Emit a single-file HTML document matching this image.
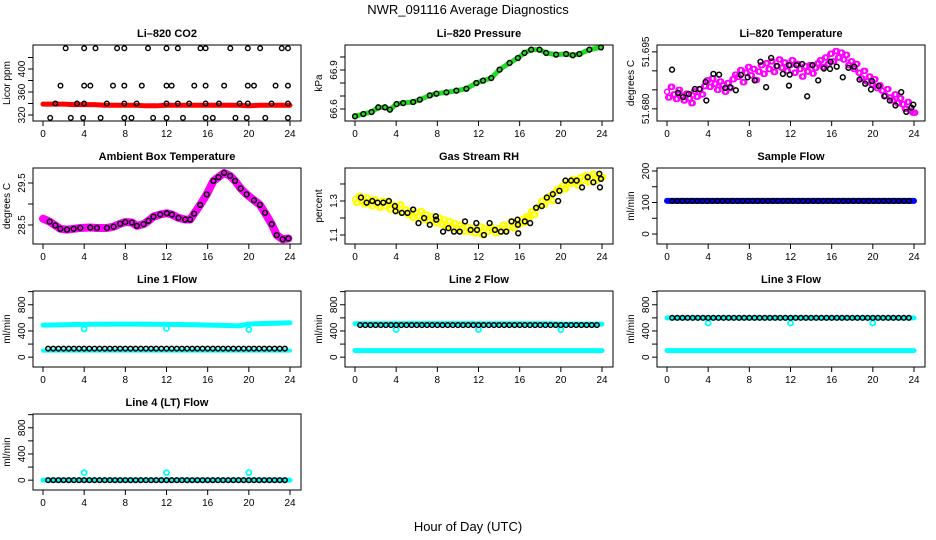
<!DOCTYPE html>
<html><head><meta charset="utf-8"><style>
html,body{margin:0;padding:0;background:#fff;}
svg{display:block;font-family:"Liberation Sans",sans-serif;}
</style></head><body>
<svg id="fig" width="936" height="540" viewBox="0 0 936 540">
<text x="468" y="14" text-anchor="middle" font-size="13">NWR_091116  Average Diagnostics</text>
<text x="468" y="531" text-anchor="middle" font-size="13">Hour of Day (UTC)</text>
</svg>
<script>
// ---------- data ----------
const xTicks=[0,4,8,12,16,20,24];
// CO2
const co2RedVals=[339,339,339,338,338,338,337,337,337,337,336,336,337,337,337,337,337,337,337,337,336,337,337,337,337];
const co2HighHours=[2.2,4.0,5.1,7.2,7.9,10.2,12.0,13.1,15.3,15.8,18.2,19.9,21.1,23.2,23.8];
const co2HighVal=436;
const co2MidHours=[1.7,4.0,4.6,6.8,7.9,9.6,12.0,12.5,14.7,15.8,17.6,19.9,20.5,22.6,23.8];
const co2MidVal=371;
const co2LowHours=[1.2,3.3,4.0,6.2,7.9,9.1,12.0,13.1,14.2,15.8,17.1,19.1,19.9,22.2,23.8];
const co2LowVal=340;
const co2MinHours=[0.7,2.7,3.9,5.6,7.9,8.6,10.7,12.0,13.6,15.8,16.5,18.7,19.8,21.6,23.8];
const co2MinVal=315;
// Pressure
const presHours=[0,0.81,1.61,2.26,2.91,3.39,4.04,4.68,5.65,6.30,7.27,7.91,8.88,9.85,10.82,11.79,12.44,13.24,14.05,15.02,15.83,16.47,17.12,17.93,18.57,19.54,20.51,21.16,21.80,22.77,23.90];
const presVals=[66.544,66.562,66.577,66.613,66.613,66.595,66.638,66.646,66.654,66.672,66.705,66.718,66.728,66.741,66.756,66.800,66.818,66.838,66.903,66.954,66.992,67.031,67.056,67.056,67.031,67.018,67.023,67.013,67.023,67.056,67.074];
// Li-820 temperature
const tempCloud=[51.6845,51.6830,51.6858,51.6838,51.6826,51.6850,51.6835,51.6822,51.6840,51.6828,51.6815,51.6846,51.6832,51.6852,51.6838,51.6860,51.6875,51.6858,51.6880,51.6866,51.6850,51.6872,51.6862,51.6845,51.6868,51.6855,51.6878,51.6890,51.6884,51.6902,51.6870,51.6895,51.6910,51.6888,51.6905,51.6876,51.6898,51.6915,51.6892,51.6920,51.6905,51.6925,51.6897,51.6912,51.6930,51.6908,51.6922,51.6900,51.6915,51.6928,51.6895,51.6918,51.6905,51.6885,51.6912,51.6898,51.6915,51.6893,51.6908,51.6920,51.6928,51.6910,51.6935,51.6918,51.6945,51.6925,51.6952,51.6935,51.6948,51.6930,51.6942,51.6915,51.6925,51.6905,51.6918,51.6895,51.6880,51.6900,51.6872,51.6885,51.6865,51.6878,51.6855,51.6862,51.6848,51.6835,51.6852,51.6830,51.6822,51.6838,51.6815,51.6828,51.6812,51.6800,51.6818,51.6795,51.6790];
const tempBlackHours=[0.49,1.08,1.57,2.12,2.71,3.17,3.75,3.82,4.51,5.06,5.65,6.14,6.69,7.18,7.84,8.52,9.08,9.63,10.12,10.68,11.26,11.85,11.85,11.92,12.57,13.13,13.62,14.14,14.69,15.25,15.84,15.90,16.49,17.08,17.63,18.19,18.71,19.26,19.82,19.92,20.57,21.12,21.65,22.20,22.76,23.25,23.74,23.93];
const tempBlackVals=[51.6903,51.6842,51.6831,51.6839,51.6852,51.6852,51.6871,51.6822,51.6892,51.6890,51.6855,51.6857,51.6849,51.6889,51.6883,51.6875,51.6924,51.6857,51.6934,51.6913,51.6892,51.6915,51.6861,51.6890,51.6915,51.6918,51.6833,51.6915,51.6875,51.6906,51.6905,51.6924,51.6911,51.6883,51.6908,51.6911,51.6877,51.6866,51.6851,51.6873,51.6860,51.6833,51.6822,51.6809,51.6844,51.6792,51.6803,51.6811];
// Ambient box temperature
const ambHours=[0,0.65,1.2,1.68,2.33,2.98,3.62,4.59,5.24,6.21,6.86,7.5,7.99,8.64,9.12,9.77,10.25,10.74,11.39,12.03,12.52,13.16,13.81,14.3,14.68,15.27,15.91,16.56,17.05,17.6,18.18,18.66,19.21,19.79,20.5,21.08,21.57,22.22,22.71,23.29,23.84];
const ambVals=[28.65,28.58,28.49,28.41,28.39,28.41,28.43,28.44,28.43,28.43,28.46,28.53,28.57,28.56,28.48,28.52,28.60,28.70,28.75,28.78,28.75,28.67,28.63,28.63,28.77,28.98,29.23,29.55,29.64,29.74,29.67,29.55,29.37,29.23,29.09,28.98,28.79,28.52,28.26,28.16,28.18];
// Gas stream RH
const rhCloud=[1.31,1.29,1.33,1.30,1.28,1.32,1.30,1.27,1.31,1.29,1.26,1.30,1.27,1.30,1.25,1.28,1.26,1.24,1.28,1.23,1.25,1.22,1.24,1.20,1.23,1.21,1.24,1.19,1.22,1.18,1.21,1.19,1.17,1.20,1.16,1.19,1.15,1.18,1.14,1.17,1.13,1.16,1.14,1.12,1.15,1.12,1.14,1.11,1.13,1.15,1.10,1.14,1.12,1.15,1.13,1.11,1.14,1.12,1.16,1.13,1.15,1.18,1.14,1.17,1.16,1.19,1.17,1.21,1.20,1.24,1.22,1.26,1.27,1.30,1.28,1.32,1.33,1.30,1.35,1.37,1.36,1.39,1.37,1.41,1.40,1.43,1.41,1.39,1.44,1.42,1.45,1.41,1.43,1.46,1.42,1.45,1.44];
const rhBlackHours=[0.58,1.13,1.68,2.2,2.75,3.29,3.88,3.94,4.55,5.1,5.65,6.17,6.72,7.27,7.85,7.9,8.56,9.08,9.62,10.17,10.69,11.24,11.79,11.86,12.53,13.08,13.6,14.18,14.7,15.21,15.79,15.83,15.86,16.5,17.02,17.6,18.15,18.64,19.22,19.74,19.86,20.45,21.0,21.54,22.06,22.61,23.16,23.74,23.8,23.9];
const rhBlackVals=[1.32,1.29,1.30,1.29,1.29,1.30,1.27,1.24,1.23,1.23,1.25,1.17,1.20,1.16,1.21,1.19,1.12,1.14,1.12,1.12,1.18,1.13,1.17,1.13,1.10,1.17,1.13,1.12,1.12,1.18,1.19,1.16,1.11,1.18,1.17,1.26,1.27,1.32,1.34,1.30,1.36,1.42,1.42,1.42,1.38,1.44,1.41,1.46,1.38,1.43];
// Sample flow
const sampleBlue=[105,105,105,105,105,105,105,105,105,105,105,105,105,105,105,105,105,105,105,105,105,105,105,105,105];
const sampleBlack=[105,105,105,105,105,105,105,105,105,105,105,105,105,105,105,105,105,105,105,105,105,105,105,105,105,105,105,105,105,105,105,105,105,105,105,105,105,105,105,105,105,105,105,105,105,105,105,105];
// Line flows
const l1CyanHigh=[490,492,495,498,500,502,503,504,505,504,503,502,500,498,496,494,490,487,484,478,505,512,516,520,525];
const l1CyanLow=[100,100,100,100,100,100,100,100,100,100,100,100,100,100,100,100,100,100,100,100,100,100,100,100,100];
const l1Black=[130,130,130,130,130,130,130,130,130,130,130,130,130,130,130,130,130,130,130,130,130,130,130,130,130,130,130,130,130,130,130,130,130,130,130,130,130,130,130,130,130,130,130,130,130,130,130];
const l1DipHours=[4,12,20];
const l1DipVals=[430,440,420];
const l2CyanHigh=[510,510,510,510,510,512,512,512,512,512,512,512,510,510,510,510,510,510,510,510,505,505,505,505,505];
const l2CyanLow=[100,100,100,100,100,100,100,100,100,100,100,100,100,100,100,100,100,100,100,100,100,100,100,100,100];
const l2Black=[490,490,490,490,490,490,490,490,490,490,490,490,490,490,490,490,490,490,490,490,490,490,490,490,490,490,490,490,490,490,490,490,490,490,490,490,490,490,490,490,490,490,490,490,490,490,490];
const l2DipHours=[4,12,20];
const l2DipVals=[420,420,420];
const l3CyanHigh=[600,600,600,600,600,600,600,600,600,600,600,600,600,600,600,600,600,600,600,600,600,600,600,600,600];
const l3CyanLow=[100,100,100,100,100,100,100,100,100,100,100,100,100,100,100,100,100,100,100,100,100,100,100,100,100];
const l3Black=[600,600,600,600,600,600,600,600,600,600,600,600,600,600,600,600,600,600,600,600,600,600,600,600,600,600,600,600,600,600,600,600,600,600,600,600,600,600,600,600,600,600,600,600,600,600,600];
const l3DipHours=[4,12,20];
const l3DipVals=[520,520,520];
const l4Cyan=[0,0,0,0,0,0,0,0,0,0,0,0,0,0,0,0,0,0,0,0,0,0,0,0,0];
const l4Black=[0,0,0,0,0,0,0,0,0,0,0,0,0,0,0,0,0,0,0,0,0,0,0,0,0,0,0,0,0,0,0,0,0,0,0,0,0,0,0,0,0,0,0,0,0,0,0];
const l4SpikeHours=[4,12,20];
const l4SpikeVals=[115,115,115];

// ---------- drawing ----------
const NS="http://www.w3.org/2000/svg";
const svg=document.getElementById('fig');
const colX=[0,312,624], rowY=[45,168,291,414];
function mk(tag,attrs,parent){const e=document.createElementNS(NS,tag);for(const k in attrs)e.setAttribute(k,attrs[k]);(parent||svg).appendChild(e);return e;}

function panel(col,row,name,title,ylab,ydom,ticks,labels,fmt){
  const bx=colX[col]+33,bw=268,by=rowY[row],bh=76;
  const g=mk('g',{});
  
  
  const xs=h=>bx+10+h/24*247;
  const ys=v=>by+bh-(v-ydom[0])/(ydom[1]-ydom[0])*bh;
  const box=mk('rect',{x:bx,y:by,width:bw,height:bh,fill:'none',stroke:'#000','stroke-width':1},g);
  
  
  const t=mk('text',{x:bx+bw/2,y:by-8,'text-anchor':'middle','font-size':11,'font-weight':'bold'},g);
  t.textContent=title;
  
  
  const yl=mk('text',{x:0,y:0,'text-anchor':'middle','font-size':10,transform:`translate(${bx-23},${by+bh/2}) rotate(-90)`},g);
  yl.textContent=ylab;
  
  
  const ax=mk('g',{stroke:'#000','stroke-width':1},g);
  
  
  mk('line',{x1:xs(0),x2:xs(24),y1:by+bh,y2:by+bh},ax);
  xTicks.forEach(h=>{
    mk('line',{x1:xs(h),x2:xs(h),y1:by+bh,y2:by+bh+5},ax);
    const l=mk('text',{x:xs(h),y:by+bh+16,'text-anchor':'middle','font-size':10,stroke:'none'},g);
    l.textContent=h;
    
    
  });
  const ay=mk('g',{stroke:'#000','stroke-width':1},g);
  
  
  ticks.forEach(v=>mk('line',{x1:bx-5,x2:bx,y1:ys(v),y2:ys(v)},ay));
  labels.forEach(v=>{
    const l=mk('text',{x:0,y:0,'text-anchor':'middle','font-size':10,transform:`translate(${bx-8},${ys(v)}) rotate(-90)`},g);
    l.textContent=fmt?v.toFixed(fmt):String(v);
    
    
  });
  const data=mk('g',{},g);
  
  
  return {xs,ys,data};
}
function band(p,hours,vals,color,w,nm){
  const pts=vals.map((v,i)=>p.xs(hours?hours[i]:i*24/(vals.length-1))+','+p.ys(v)).join(' ');
  const e=mk('polyline',{points:pts,fill:'none',stroke:color,'stroke-width':w,'stroke-linejoin':'round','stroke-linecap':'round'},p.data);
  
  
}
function circles(p,hours,vals,color,nm,r,sw){
  vals.forEach((v,i)=>{
    const h=hours?hours[i]:0.5+i*(23.5-0.5)/(vals.length-1);
    const c=mk('circle',{cx:p.xs(h),cy:p.ys(v),r:r||2.3,fill:'none',stroke:color,'stroke-width':sw||1.4},p.data);
    
    
  });
}
function constHours(hours,val){return hours.map(()=>val);}

let p=panel(0,0,'co2','Li\u2013820 CO2','Licor ppm',[309.6,441.7],[320,340,360,380,400,420],[320,360,400]);
band(p,null,co2RedVals,'#ff0000',5,'co2-red-band');
circles(p,co2HighHours,constHours(co2HighHours,co2HighVal),'#000','co2-point');
circles(p,co2MidHours,constHours(co2MidHours,co2MidVal),'#000','co2-point');
circles(p,co2LowHours,constHours(co2LowHours,co2LowVal),'#000','co2-point');
circles(p,co2MinHours,constHours(co2MinHours,co2MinVal),'#000','co2-point');

p=panel(1,0,'pressure','Li\u2013820 Pressure','kPa',[66.508,67.092],[66.6,66.7,66.8,66.9,67.0],[66.6,66.9]);
band(p,presHours,presVals,'#22dd22',5,'pressure-green-band');
circles(p,presHours,presVals,'#000','pressure-point',2.4,1.5);

p=panel(2,0,'li820-temp','Li\u2013820 Temperature','degrees C',[51.6768,51.6968],[51.680,51.685,51.690,51.695],[51.680,51.695],3);
circles(p,tempCloud.map((v,i)=>i*0.25),tempCloud,'#ff00ff','temp-cloud-point',2.5,1.5);
circles(p,tempCloud.map((v,i)=>i*0.25+0.12),tempCloud.map((v,i)=>tempCloud[Math.min(i+1,tempCloud.length-1)]),'#ff00ff','temp-cloud-point',2.5,1.5);
circles(p,tempBlackHours,tempBlackVals,'#000','temp-point',2.4,1.5);

p=panel(0,1,'ambient-temp','Ambient Box Temperature','degrees C',[28.048,29.857],[28.5,29.0,29.5],[28.5,29.5]);
band(p,ambHours,ambVals,'#ff00ff',8,'ambient-magenta-band');
circles(p,ambHours.slice(1),ambVals.slice(1),'#000','ambient-point',2.4,1.5);

p=panel(1,1,'rh','Gas Stream RH','percent',[1.047,1.494],[1.1,1.2,1.3,1.4],[1.1,1.3]);
circles(p,rhCloud.map((v,i)=>i*0.25),rhCloud,'#ffff00','rh-cloud-point',2.5,1.6);
circles(p,rhCloud.map((v,i)=>i*0.25+0.12),rhCloud.map((v,i)=>rhCloud[Math.min(i+1,rhCloud.length-1)]),'#ffff00','rh-cloud-point',2.5,1.6);
circles(p,rhBlackHours,rhBlackVals,'#000','rh-point',2.4,1.5);

p=panel(2,1,'sample-flow','Sample Flow','ml/min',[-31.7,209.5],[0,50,100,150,200],[0,100,200]);
band(p,null,sampleBlue,'#0000ff',6,'sample-blue-band');
circles(p,null,sampleBlack,'#000','sample-point',2.3,1.5);

const fdom=[-150,1010],fticks=[0,200,400,600,800,1000],flab=[0,400,800];
p=panel(0,2,'line1','Line 1 Flow','ml/min',fdom,fticks,flab);
band(p,null,l1CyanHigh,'#00ffff',5,'line1-cyan-high');
band(p,null,l1CyanLow,'#00ffff',4,'line1-cyan-low');
circles(p,l1DipHours,l1DipVals,'#00ffff','line1-dip',2.5,1.8);
circles(p,null,l1Black,'#000','line1-point',2.3,1.5);
p=panel(1,2,'line2','Line 2 Flow','ml/min',fdom,fticks,flab);
band(p,null,l2CyanHigh,'#00ffff',5,'line2-cyan-high');
band(p,null,l2CyanLow,'#00ffff',5,'line2-cyan-low');
circles(p,l2DipHours,l2DipVals,'#00ffff','line2-dip',2.5,1.8);
circles(p,null,l2Black,'#000','line2-point',2.3,1.5);
p=panel(2,2,'line3','Line 3 Flow','ml/min',fdom,fticks,flab);
band(p,null,l3CyanHigh,'#00ffff',5,'line3-cyan-high');
band(p,null,l3CyanLow,'#00ffff',5,'line3-cyan-low');
circles(p,l3DipHours,l3DipVals,'#00ffff','line3-dip',2.5,1.8);
circles(p,null,l3Black,'#000','line3-point',2.3,1.5);
p=panel(0,3,'line4','Line 4 (LT) Flow','ml/min',fdom,fticks,flab);
band(p,null,l4Cyan,'#00ffff',5,'line4-cyan-band');
circles(p,l4SpikeHours,l4SpikeVals,'#00ffff','line4-spike',2.5,1.8);
circles(p,null,l4Black,'#000','line4-point',2.3,1.5);
</script>
</body></html>
